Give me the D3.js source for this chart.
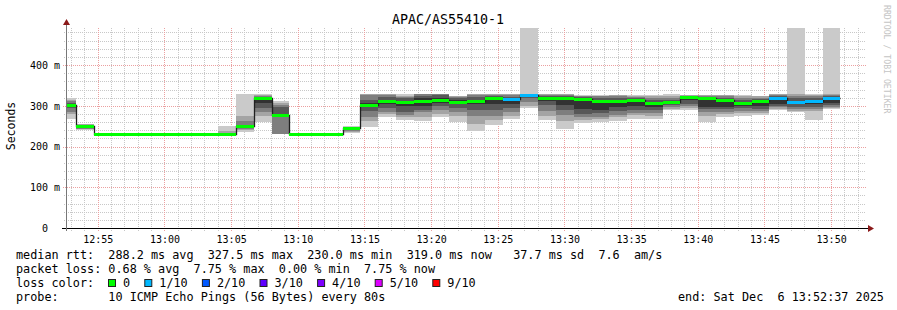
<!DOCTYPE html>
<html>
<head>
<meta charset="utf-8">
<script src="https://cdn.jsdelivr.net/npm/d3@7"></script>
<style>
  body { margin: 0; background: #fff; }
  svg { display: block; font-family: "DejaVu Sans Mono", monospace; }
</style>
</head>
<body>
<script>
// chart text
const title = "APAC/AS55410-1";
const yAxisTitle = "Seconds";
const watermark = "RRDTOOL / TOBI OETIKER";
const yTicks = [0, 100, 200, 300, 400];
const yTickLabels = ["  0  ", "100 m", "200 m", "300 m", "400 m"];
const yMax = 491;

// time frame: one hour ending at the "end" stamp, one probe every 80 s
const endTime = new Date(2025, 11, 6, 13, 52, 37);
const startTime = new Date(2025, 11, 6, 12, 52, 37);
const firstStepStart = new Date(2025, 11, 6, 12, 52, 2);
const stepSeconds = 80;

// median rtt per step (ms)
const medians = [303, 251, 230, 230, 230, 230, 230, 230, 230, 230, 250, 319, 278, 230, 230, 230,
  245, 303, 313, 309, 313, 314, 310, 312, 319, 316, 327.5, 319, 319, 316, 312, 312,
  314, 308, 310, 322, 319, 314, 308, 312, 320, 309, 313, 319];

// lost pings (of 10) per step
const lossCount = [0, 0, 0, 0, 0, 0, 0, 0, 0, 0, 0, 0, 0, 0, 0, 0,
  0, 0, 0, 0, 0, 0, 0, 0, 0, 1, 1, 0, 0, 0, 0, 0,
  0, 0, 0, 0, 0, 0, 0, 0, 1, 1, 1, 1];

// sorted ping times per step (ms)
const pings = [
  [268, 280, 285, 295, 300, 305, 308, 312, 315, 318],
  [241, 243, 244, 246, 249, 252, 253, 254, 255, 256],
  [230, 230, 230, 230, 230, 230, 230, 230, 230, 230],
  [230, 230, 230, 230, 230, 230, 230, 230, 230, 230],
  [230, 230, 230, 230, 230, 230, 230, 230, 230, 230],
  [230, 230, 230, 230, 230, 230, 230, 230, 230, 230],
  [230, 230, 230, 230, 230, 230, 230, 230, 230, 230],
  [230, 230, 230, 230, 230, 230, 230, 230, 230, 230],
  [230, 230, 230, 230, 230, 230, 230, 230, 230, 230],
  [230, 230, 230, 230, 230, 230, 231, 232, 238, 250],
  [236, 240, 244, 247, 249, 251, 253, 262, 275, 329],
  [260, 275, 285, 295, 307, 320, 322, 324, 327, 329],
  [230, 230, 230, 276, 277, 280, 298, 302, 307, 312],
  [230, 230, 230, 230, 230, 230, 230, 230, 230, 230],
  [230, 230, 230, 230, 230, 230, 230, 230, 230, 230],
  [230, 230, 230, 230, 230, 230, 230, 230, 230, 230],
  [233, 235, 238, 241, 244, 246, 247, 248, 249, 250],
  [249, 262, 272, 288, 298, 306, 315, 327, 328, 329],
  [273, 280, 285, 295, 305, 315, 322, 326, 328, 329],
  [265, 272, 278, 285, 300, 312, 318, 322, 325, 329],
  [263, 272, 285, 290, 300, 318, 325, 328, 329, 329],
  [272, 280, 290, 300, 308, 318, 326, 328, 329, 329],
  [260, 275, 285, 295, 305, 315, 320, 322, 323, 324],
  [237, 255, 275, 290, 305, 315, 322, 326, 328, 329],
  [254, 265, 275, 290, 305, 318, 323, 326, 328, 329],
  [268, 275, 285, 295, 305, 318, 322, 326, 328, 329],
  [294, 300, 310, 318, 324, 328, 329, 329, 329, 495],
  [265, 276, 288, 302, 312, 320, 324, 327, 328, 329],
  [244, 262, 277, 290, 303, 320, 325, 327, 328, 329],
  [259, 265, 272, 280, 292, 318, 322, 324, 325, 326],
  [261, 268, 273, 282, 290, 313, 320, 323, 325, 326],
  [263, 272, 277, 288, 297, 312, 318, 323, 326, 327],
  [268, 278, 283, 290, 300, 314, 318, 322, 324, 326],
  [268, 276, 283, 290, 298, 308, 315, 320, 324, 327],
  [290, 293, 297, 302, 306, 310, 315, 320, 325, 330],
  [290, 295, 300, 305, 315, 322, 324, 325, 326, 326],
  [261, 275, 285, 292, 298, 319, 322, 325, 327, 327],
  [272, 280, 285, 292, 298, 314, 320, 324, 326, 327],
  [276, 282, 288, 294, 300, 309, 315, 320, 325, 327],
  [277, 282, 288, 293, 299, 312, 316, 320, 323, 324],
  [290, 293, 296, 300, 305, 320, 324, 326, 328, 329],
  [284, 288, 292, 298, 305, 310, 318, 325, 329, 495],
  [266, 288, 292, 298, 305, 313, 318, 324, 327, 329],
  [292, 295, 298, 302, 308, 320, 324, 327, 329, 495]
];

// legend
const lossLabels = ["0", "1/10", "2/10", "3/10", "4/10", "5/10", "9/10"];
const lossPalette = ["#00ff00", "#00b8ff", "#0059ff", "#5e00ff", "#7e00ff", "#dd00ff", "#ff0000"];
const statLines = [
  "median rtt:  288.2 ms avg  327.5 ms max  230.0 ms min  319.0 ms now   37.7 ms sd  7.6  am/s",
  "packet loss: 0.68 % avg  7.75 % max  0.00 % min  7.75 % now",
  "loss color:",
  "probe:       10 ICMP Echo Pings (56 Bytes) every 80s"
];
const endLabel = "end: Sat Dec  6 13:52:37 2025";

// smoke shades, outer pair to inner pair
const smokeShades = ["#cacaca", "#a4a4a4", "#7e7e7e", "#585858", "#323232"];

const margin = { top: 28, left: 66 };
const width = 800, height = 200;

const svg = d3.select("body").append("svg")
  .attr("width", 897)
  .attr("height", 310);

const x = d3.scaleTime().domain([startTime, endTime]).range([0, width]);
const y = d3.scaleLinear().domain([0, yMax]).range([height, 0]);

const g = svg.append("g")
  .attr("transform", `translate(${margin.left},${margin.top})`);

svg.append("defs").append("clipPath").attr("id", "plot-clip")
  .append("rect").attr("x", 0).attr("y", 0).attr("width", width).attr("height", height);

const px = v => Math.round(v) + 0.5;

// grid: minor then major
const minorX = d3.timeMinute.every(1).range(startTime, endTime).filter(d => d.getMinutes() % 5 !== 0);
const majorX = d3.timeMinute.every(5).range(startTime, endTime);
const minorY = d3.range(20, yMax, 20).filter(v => v % 100 !== 0);
const majorY = yTicks.filter(v => v > 0);

g.selectAll(".gx-minor").data(minorX).enter().append("line")
  .attr("x1", d => px(x(d))).attr("x2", d => px(x(d)))
  .attr("y1", 0).attr("y2", height + 3)
  .attr("stroke", "#c8c8c8").attr("stroke-dasharray", "1,1");
g.selectAll(".gy-minor").data(minorY).enter().append("line")
  .attr("x1", -2).attr("x2", width)
  .attr("y1", d => px(y(d))).attr("y2", d => px(y(d)))
  .attr("stroke", "#c8c8c8").attr("stroke-dasharray", "1,1");
g.selectAll(".gx-major").data(majorX).enter().append("line")
  .attr("x1", d => px(x(d))).attr("x2", d => px(x(d)))
  .attr("y1", 0).attr("y2", height + 3)
  .attr("stroke", "#eba0a0").attr("stroke-dasharray", "1,1");
g.selectAll(".gy-major").data(majorY).enter().append("line")
  .attr("x1", -3).attr("x2", width)
  .attr("y1", d => px(y(d))).attr("y2", d => px(y(d)))
  .attr("stroke", "#eba0a0").attr("stroke-dasharray", "1,1");

// steps
const steps = medians.map((m, i) => {
  const t0 = d3.timeSecond.offset(firstStepStart, i * stepSeconds);
  const t1 = d3.timeSecond.offset(firstStepStart, (i + 1) * stepSeconds);
  return { t0, t1, median: m, loss: lossCount[i], p: pings[i] };
});

const plot = g.append("g").attr("clip-path", "url(#plot-clip)");

// smoke: band k spans p[k]..p[9-k]
steps.forEach(s => {
  const x0 = Math.round(x(s.t0)), x1 = Math.round(x(s.t1));
  smokeShades.forEach((c, k) => {
    const lo = s.p[k], hi = s.p[s.p.length - 1 - k];
    const yTop = Math.round(y(Math.min(hi, yMax)));
    const yBot = Math.round(y(lo));
    if (yBot - yTop <= 0) return;
    plot.append("rect")
      .attr("x", x0).attr("width", x1 - x0)
      .attr("y", yTop).attr("height", yBot - yTop)
      .attr("fill", c);
  });
});

// dark median step line
const medPts = steps.map(s => [x(s.t0), y(s.median)]);
const last = steps[steps.length - 1];
medPts.push([x(last.t1), y(last.median)]);
plot.append("path")
  .attr("d", d3.line().curve(d3.curveStepAfter)(medPts.map(p => [Math.round(p[0]) + 0.5, Math.round(p[1]) + 0.5])))
  .attr("fill", "none")
  .attr("stroke", "#202020")
  .attr("stroke-width", 1.3);

// loss-coloured median bands
const lossColor = n => n === 0 ? lossPalette[0] : n <= 4 ? lossPalette[n] : n <= 8 ? lossPalette[5] : lossPalette[6];
plot.selectAll(".med").data(steps).enter().append("rect")
  .attr("x", d => Math.round(x(d.t0)))
  .attr("width", d => Math.round(x(d.t1)) - Math.round(x(d.t0)))
  .attr("y", d => Math.round(y(d.median)) - 1)
  .attr("height", 3)
  .attr("fill", d => lossColor(d.loss));

// axes
const xAxis = d3.axisBottom(x)
  .ticks(d3.timeMinute.every(5))
  .tickFormat(d3.timeFormat("%H:%M"))
  .tickSize(0)
  .tickPadding(8);
const gx = g.append("g").attr("transform", `translate(0,${height})`).call(xAxis);
gx.select(".domain").remove();
gx.selectAll("text").attr("fill", "#000").style("font-size", "10px")
  .style("font-family", "'DejaVu Sans Mono', monospace");

const yAxis = d3.axisLeft(y)
  .tickValues(yTicks)
  .tickFormat((d, i) => yTickLabels[i])
  .tickSize(0)
  .tickPadding(6);
const gy = g.append("g").call(yAxis);
gy.select(".domain").remove();
gy.selectAll("text").attr("fill", "#000").style("font-size", "10px")
  .style("white-space", "pre")
  .style("font-family", "'DejaVu Sans Mono', monospace");

// axis lines and arrows
g.append("line").attr("x1", -4).attr("x2", width + 3).attr("y1", height + 0.5).attr("y2", height + 0.5)
  .attr("stroke", "#000");
g.append("line").attr("x1", 0.5).attr("x2", 0.5).attr("y1", height + 3).attr("y2", -5)
  .attr("stroke", "#777");
g.append("path").attr("d", `M${width + 2},${height - 3} L${width + 8},${height + 0.5} L${width + 2},${height + 4} Z`)
  .attr("fill", "#8b1a1a");
g.append("path").attr("d", `M-3,-3 L0.5,-9 L4,-3 Z`)
  .attr("fill", "#8b1a1a");

// title and side labels
svg.append("text")
  .attr("x", 448).attr("y", 24)
  .attr("text-anchor", "middle")
  .style("font-size", "13.3px")
  .text(title);

svg.append("text")
  .attr("transform", "translate(15,126) rotate(-90)")
  .attr("text-anchor", "middle")
  .style("font-size", "11.5px")
  .text(yAxisTitle);

svg.append("text")
  .attr("transform", "translate(884,5) rotate(90)")
  .attr("fill", "#c4c4c4")
  .style("font-size", "8.2px")
  .text(watermark);

// legend block
const charW = 7.1;
const legendFont = "11.8px";
const lineY = [259, 273, 287, 301];
statLines.forEach((s, i) => {
  svg.append("text")
    .attr("x", 16).attr("y", lineY[i])
    .style("font-size", legendFont)
    .style("white-space", "pre")
    .text(s);
});

let bx = 108;
lossLabels.forEach((lab, i) => {
  svg.append("rect")
    .attr("x", bx + 0.5).attr("y", lineY[2] - 7.5)
    .attr("width", 7).attr("height", 7)
    .attr("fill", lossPalette[i])
    .attr("stroke", "#222");
  const tx = bx + 15;
  svg.append("text")
    .attr("x", tx).attr("y", lineY[2])
    .style("font-size", legendFont)
    .text(lab);
  bx = tx + lab.length * charW + 2 * charW;
});

svg.append("text")
  .attr("x", 678).attr("y", lineY[3])
  .style("font-size", legendFont)
  .style("white-space", "pre")
  .text(endLabel);
</script>
</body>
</html>
